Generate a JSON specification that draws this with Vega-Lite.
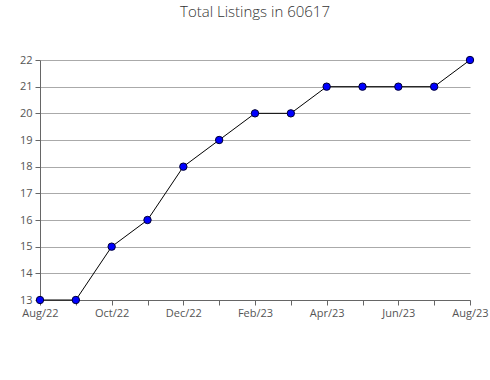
{
  "$schema": "https://vega.github.io/schema/vega-lite/v6.json",
  "width": 430,
  "height": 240,
  "autosize": {"type": "none"},
  "padding": {"left": 40, "top": 60, "right": 20, "bottom": 80},
  "background": "white",
  "title": {"text": "Total Listings in 60617", "font": "Open Sans", "fontSize": 15, "fontWeight": 300, "color": "#333", "offset": 34, "anchor": "middle"},
  "data": {"values": [
    {"month": "Aug/22", "listings": 13},
    {"month": "Sep/22", "listings": 13},
    {"month": "Oct/22", "listings": 15},
    {"month": "Nov/22", "listings": 16},
    {"month": "Dec/22", "listings": 18},
    {"month": "Jan/23", "listings": 19},
    {"month": "Feb/23", "listings": 20},
    {"month": "Mar/23", "listings": 20},
    {"month": "Apr/23", "listings": 21},
    {"month": "May/23", "listings": 21},
    {"month": "Jun/23", "listings": 21},
    {"month": "Jul/23", "listings": 21},
    {"month": "Aug/23", "listings": 22}
  ]},
  "config": {"view": {"stroke": null}},
  "encoding": {
    "x": {"field": "month", "type": "ordinal", "sort": null,
      "scale": {"type": "point", "padding": 0},
      "axis": {"title": null, "labelAngle": 0, "labelFont": "Open Sans", "labelFontSize": 11, "labelColor": "#555",
        "labelExpr": "indexof(['Aug/22','Oct/22','Dec/22','Feb/23','Apr/23','Jun/23','Aug/23'], datum.value) >= 0 ? datum.value : ''",
        "domainColor": "#666", "tickColor": "#666", "tickSize": 5, "labelPadding": 2, "grid": false, "labelOverlap": false}},
    "y": {"field": "listings", "type": "quantitative",
      "scale": {"domain": [13, 22], "nice": false, "zero": false},
      "axis": {"title": null, "values": [13,13.5,14,14.5,15,15.5,16,16.5,17,17.5,18,18.5,19,19.5,20,20.5,21,21.5,22],
        "format": "d",
        "labelExpr": "datum.value % 1 === 0 ? format(datum.value, 'd') : ''",
        "labelFont": "Open Sans", "labelFontSize": 11, "labelColor": "#555",
        "domainColor": "#666", "tickColor": "#666", "tickSize": 5, "labelPadding": 3,
        "grid": true, "gridColor": "#aaa",
        "gridOpacity": {"condition": {"test": "datum.value % 1 === 0", "value": 1}, "value": 0}}}
  },
  "layer": [
    {"mark": {"type": "line", "color": "black", "strokeWidth": 1}},
    {"mark": {"type": "point", "shape": "circle", "filled": true, "fill": "#0000ff", "stroke": "#000033", "strokeWidth": 1, "size": 55, "opacity": 1}}
  ]
}
